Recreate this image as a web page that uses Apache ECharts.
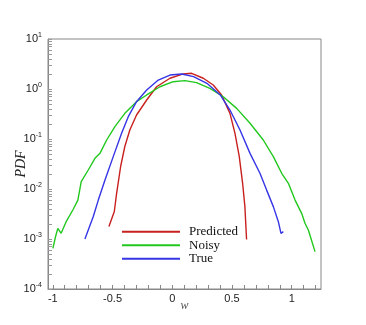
<!DOCTYPE html>
<html lang="en">
<head>
<meta charset="UTF-8">
<title>PDF</title>
<script src="https://cdn.jsdelivr.net/npm/echarts@6/dist/echarts.min.js"></script>
<style>
  html, body { margin: 0; padding: 0; background: #fff; }
  #main { width: 366px; height: 325px; }
</style>
</head>
<body>
<div id="main"></div>
<script>
// values (w, PDF)
var predX = [-0.530, -0.485, -0.466, -0.432, -0.397, -0.355, -0.299, -0.214, -0.131, -0.019, 0.092, 0.162, 0.260, 0.343, 0.413, 0.483, 0.525, 0.561, 0.589, 0.608, 0.622];
var predY = [1.78e-3, 3.55e-3, 8.1e-3, 0.0282, 0.0708, 0.151, 0.302, 0.603, 1.11, 1.64, 2.0, 2.06, 1.64, 1.2, 0.76, 0.326, 0.13, 0.0444, 0.013, 4.44e-3, 9.8e-4];

var noisyX = [-0.999, -0.977, -0.958, -0.930, -0.888, -0.832, -0.790, -0.762, -0.703, -0.647, -0.605, -0.549, -0.480, -0.397, -0.299, -0.214, -0.103, 0.008, 0.106, 0.203, 0.315, 0.427, 0.539, 0.651, 0.762, 0.846, 0.916, 0.972, 1.028, 1.083, 1.111, 1.139, 1.195];
var noisyY = [6.5e-4, 1.11e-3, 1.63e-3, 1.3e-3, 2.22e-3, 3.8e-3, 6.0e-3, 0.014, 0.024, 0.041, 0.0516, 0.0955, 0.177, 0.326, 0.558, 0.76, 1.11, 1.4, 1.47, 1.34, 1.03, 0.70, 0.41, 0.206, 0.0955, 0.0444, 0.0206, 0.013, 6.0e-3, 3.26e-3, 2.06e-3, 1.51e-3, 5.6e-4];

var trueX = [-0.731, -0.703, -0.661, -0.619, -0.563, -0.494, -0.424, -0.368, -0.299, -0.214, -0.117, -0.019, 0.080, 0.178, 0.290, 0.402, 0.483, 0.567, 0.651, 0.734, 0.790, 0.846, 0.888, 0.910, 0.930];
var trueY = [1.0e-3, 1.51e-3, 2.82e-3, 6.0e-3, 0.0151, 0.0444, 0.13, 0.28, 0.558, 0.955, 1.51, 1.9, 2.0, 1.77, 1.3, 0.76, 0.38, 0.151, 0.0516, 0.0206, 9.5e-3, 4.44e-3, 2.22e-3, 1.3e-3, 1.4e-3];

var xTickLabels = [-1, -0.5, 0, 0.5, 1];
var yTickLabels = [1e-4, 1e-3, 1e-2, 1e-1, 1, 10];

// tick marks: every 0.1 on w, 1..9 per decade on PDF
var xTicks = [];
for (var i = 0; i <= 22; i++) xTicks.push(Math.round((-1 + i * 0.1) * 10) / 10);
var yTicks = [];
for (var k = -4; k <= 0; k++) {
  for (var m = 1; m <= 9; m++) yTicks.push(m * Math.pow(10, k));
}
yTicks.push(10);

function pairs(xs, ys) {
  var out = [];
  for (var i = 0; i < xs.length; i++) out.push([xs[i], ys[i]]);
  return out;
}

var chart = echarts.init(document.getElementById('main'));

var option = {
  animation: false,
  grid: {
    left: 48, right: 45, top: 39, bottom: 36,
    show: true, borderColor: '#888', borderWidth: 1
  },
  legend: {
    orient: 'vertical',
    left: 122, top: 225,
    padding: 0,
    icon: 'rect',
    itemWidth: 58, itemHeight: 2,
    itemGap: 0,
    textStyle: {
      fontFamily: 'Liberation Serif', fontSize: 13, color: '#111',
      lineHeight: 13.5, padding: [0, 0, 0, 4]
    },
    data: ['Predicted', 'Noisy', 'True']
  },
  xAxis: {
    type: 'value',
    min: -1.04, max: 1.245,
    name: 'w', nameLocation: 'middle', nameGap: 11, nameMoveOverlap: false,
    nameTextStyle: { fontFamily: 'Liberation Serif', fontStyle: 'italic', fontSize: 12, color: '#555' },
    axisLine: { onZero: false, lineStyle: { color: '#888' } },
    axisTick: { inside: true, length: 4, customValues: xTicks, lineStyle: { color: '#888' } },
    axisLabel: { customValues: xTickLabels, fontFamily: 'Liberation Sans', fontSize: 11, color: '#222', margin: 4 },
    splitLine: { show: false }
  },
  yAxis: {
    type: 'log',
    logBase: 10,
    min: 1e-4, max: 10,
    name: 'PDF', nameLocation: 'middle', nameGap: 20, nameMoveOverlap: false,
    nameTextStyle: { fontFamily: 'Liberation Serif', fontStyle: 'italic', fontSize: 14, color: '#222' },
    axisLine: { show: true, onZero: false, lineStyle: { color: '#888' } },
    axisTick: { inside: true, length: 4, customValues: yTicks, lineStyle: { color: '#999' } },
    axisLabel: {
      customValues: yTickLabels,
      margin: 6,
      formatter: function (v) {
        return '{b|10}{s|' + Math.round(Math.log10(v)) + '}';
      },
      rich: {
        b: { fontFamily: 'Liberation Sans', fontSize: 11, color: '#222' },
        s: { fontFamily: 'Liberation Sans', fontSize: 7, color: '#222', padding: [0, 0, 7, 0] }
      }
    },
    splitLine: { show: false }
  },
  series: [
    {
      name: 'Predicted', type: 'line', showSymbol: false,
      data: pairs(predX, predY),
      lineStyle: { color: '#c8201e', width: 1.4 },
      itemStyle: { color: '#c8201e' }
    },
    {
      name: 'Noisy', type: 'line', showSymbol: false,
      data: pairs(noisyX, noisyY),
      lineStyle: { color: '#22c81e', width: 1.4 },
      itemStyle: { color: '#22c81e' }
    },
    {
      name: 'True', type: 'line', showSymbol: false,
      data: pairs(trueX, trueY),
      lineStyle: { color: '#3535e6', width: 1.4 },
      itemStyle: { color: '#3535e6' }
    }
  ]
};

chart.setOption(option);
</script>
</body>
</html>
